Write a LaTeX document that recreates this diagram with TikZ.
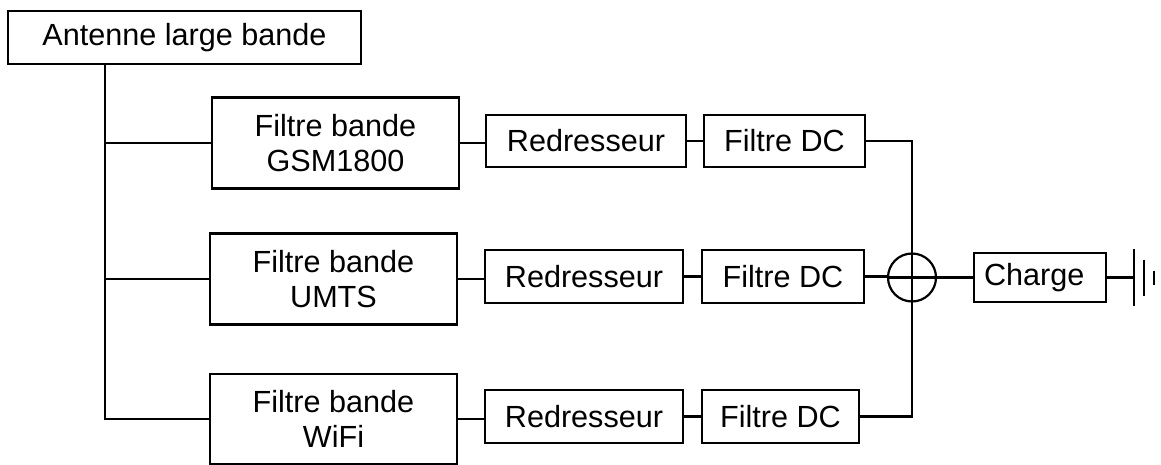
\documentclass[tikz,border=0pt]{standalone}
\usepackage{fontspec}
\setmainfont{Liberation Sans}
\begin{document}
\begin{tikzpicture}[x=1pt,y=-1pt,line width=2.2pt,
  blk/.style={draw,line width=2.2pt,inner sep=0pt,align=center,font=\fontsize{30.6}{35}\selectfont},
  wire/.style={line width=2.2pt}]
\useasboundingbox (0,0) rectangle (1161,465);
\node[blk,minimum width=353pt,minimum height=53pt] (ant) at (184.5,37.5) {Antenne large bande};
\node[blk,minimum width=247pt,minimum height=91pt] (f1) at (335.5,143) {Filtre bande\\GSM1800};
\node[blk,minimum width=247pt,minimum height=91pt] (f2) at (333.5,279) {Filtre bande\\UMTS};
\node[blk,minimum width=247pt,minimum height=90pt] (f3) at (333.5,419) {Filtre bande\\WiFi};
\node[blk,minimum width=200pt,minimum height=52pt] (r1) at (586,141) {Redresseur};
\node[blk,minimum width=198pt,minimum height=53pt] (r2) at (584,276.5) {Redresseur};
\node[blk,minimum width=198pt,minimum height=53pt] (r3) at (584,416.5) {Redresseur};
\node[blk,minimum width=161pt,minimum height=52pt] (d1) at (784.5,141) {Filtre DC};
\node[blk,minimum width=162pt,minimum height=53pt] (d2) at (783,276.5) {Filtre DC};
\node[blk,minimum width=157pt,minimum height=53pt] (d3) at (780.5,416.5) {Filtre DC};
\node[draw,circle,line width=2.2pt,minimum size=48pt,inner sep=0pt] (sum) at (912,277.5) {};
\node[blk,text width=112pt,inner xsep=10pt,align=left,minimum height=49pt] (chg) at (1040,277.5) {Charge};
% bus from antenna
\coordinate (bus) at ([xshift=98pt]ant.south west);
\draw[wire] (bus) |- (f3.west);
\draw[wire] (f1.west) -- (f1.west -| bus);
\draw[wire] (f2.west) -- (f2.west -| bus);
% rows
\draw[wire] (f1.east) -- (f1.east -| r1.west);
\draw[wire] (r1.east) -- (r1.east -| d1.west);
\draw[wire] (f2.east) -- (f2.east -| r2.west);
\draw[wire] (r2.east) -- (r2.east -| d2.west);
\draw[wire] (f3.east) -- (f3.east -| r3.west);
\draw[wire] (r3.east) -- (r3.east -| d3.west);
% summation
\draw[wire] (d1.east) -| (sum.north);
\draw[wire] (d3.east) -| (sum.south);
\draw[wire] (sum.north) -- (sum.south);
\draw[wire] (d2.east) -- (d2.east -| sum.west);
\draw[wire] (sum.west) -- (sum.east);
\draw[wire] (sum.east) -- (chg.west);
% ground
\coordinate (g) at ([xshift=27pt]chg.east);
\draw[wire] (chg.east) -- (g);
\draw[wire] ([yshift=28.5pt]g) -- ([yshift=-28.5pt]g);
\draw[wire] ([xshift=10pt,yshift=18pt]g) -- ([xshift=10pt,yshift=-18pt]g);
\draw[wire] ([xshift=20pt,yshift=7pt]g) -- ([xshift=20pt,yshift=-7pt]g);
\end{tikzpicture}
\end{document}
